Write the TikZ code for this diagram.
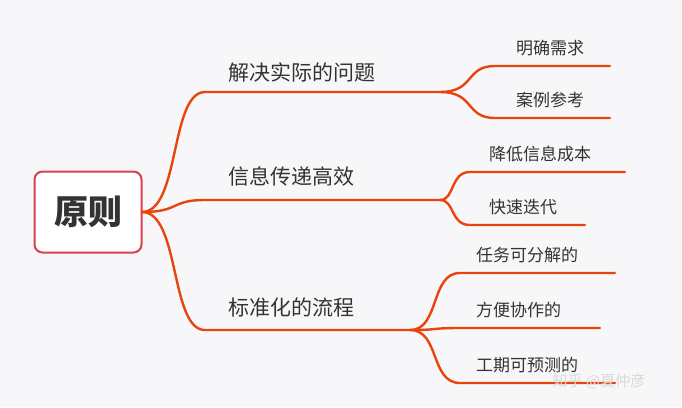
\documentclass[tikz,border=0pt]{standalone}
\usepackage{fontspec}
\newfontfamily\cjk{Noto Sans CJK SC}
\usetikzlibrary{positioning}
\definecolor{branchred}{HTML}{E8440E}
\definecolor{rootred}{HTML}{D8404A}
\definecolor{bgcol}{HTML}{F7F7F9}
\definecolor{txt}{HTML}{333333}
\tikzset{ln/.style={draw=branchred,line width=2.4pt,line cap=round},
  topic/.style={font=\cjk\fontsize{21}{21}\selectfont,text=txt,anchor=south west,inner sep=0pt},
  leaf/.style={font=\cjk\fontsize{17}{17}\selectfont,text=txt,anchor=south west,inner sep=0pt}}
\begin{document}
\begin{tikzpicture}[x=1pt,y=-1pt]
        \fill[bgcol] (0,0) rectangle (682,407);
        \useasboundingbox (0,0) rectangle (682,407);
        \node[draw=rootred,line width=2pt,fill=white,rounded corners=8pt,minimum width=107pt,minimum height=81pt,text=txt,font=\cjk\bfseries\fontsize{34}{34}\selectfont] (root) at (88,212) {原则};
        \coordinate (r) at (142,212);

        \coordinate (a0) at (205,92);  \coordinate (a1) at (440,92);
        \coordinate (b0) at (205,200); \coordinate (b1) at (440,200);
        \coordinate (c0) at (205,330); \coordinate (c1) at (410,330);
        \node[topic] (ta) at (228,82) {解决实际的问题};
        \node[topic] (tb) at (228,186) {信息传递高效};
        \node[topic] (tc) at (228,317) {标准化的流程};

        \draw[ln] (r) .. controls (180,212) and (170,92) .. (a0) -- (a1);
        \draw[ln] (r) .. controls (180,212) and (170,200) .. (b0) -- (b1);
        \draw[ln] (r) .. controls (180,212) and (170,330) .. (c0) -- (c1);

        % leaves
        \coordinate (a2) at (495,66);  \coordinate (a3) at (495,118);
        \coordinate (b2) at (470,172); \coordinate (b3) at (470,225);
        \coordinate (c2) at (460,273); \coordinate (c3) at (460,328); \coordinate (c4) at (460,383);
        \draw[ln] (a1) .. controls (475,92) and (465,66) .. (a2) -- (610,66);
        \draw[ln] (a1) .. controls (475,92) and (465,118) .. (a3) -- (610,118);
        \draw[ln] (b1) .. controls (455,200) and (450,172) .. (b2) -- (625,172);
        \draw[ln] (b1) .. controls (455,200) and (450,225) .. (b3) -- (585,225);
        \draw[ln] (c1) .. controls (440,330) and (430,273) .. (c2) -- (615,273);
        \draw[ln] (c1) .. controls (440,330) and (430,328) .. (c3) -- (600,328);
        \draw[ln] (c1) .. controls (440,330) and (430,383) .. (c4) -- (615,383);
        \node[leaf] (la) at (516,56) {明确需求};
        \node[leaf] (lb) at (516,108) {案例参考};
        \node[leaf] (lc) at (489,162) {降低信息成本};
        \node[leaf] (ld) at (489,215) {快速迭代};
        \node[leaf] (le) at (476,263) {任务可分解的};
        \node[leaf] (lf) at (476,318) {方便协作的};
        \node[leaf] (lg) at (476,373) {工期可预测的};
        \node[font=\cjk\fontsize{15}{15}\selectfont,text=white!70!gray] (wm) at (599,381) {知乎 @夏仲彦};
    \end{tikzpicture}
\end{document}
